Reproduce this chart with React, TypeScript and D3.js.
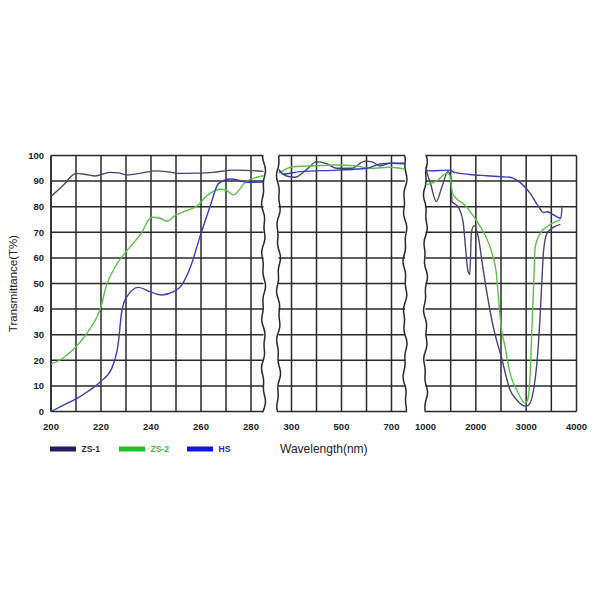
import React from "react";
import * as d3 from "d3";

// ---------- data ----------
const yTicks = [0, 10, 20, 30, 40, 50, 60, 70, 80, 90, 100];
const leftTicks = [200, 220, 240, 260, 280];
const midTicks = [300, 500, 700];
const rightTicks = [1000, 2000, 3000, 4000];

const leftZS1: [number, number][] = [
  [200, 84], [205, 88.5], [210, 93], [214, 92.6], [217.6, 92], [223.6, 93.4], [227, 93.2], [230.3, 92.4],
  [236, 93.1], [242.3, 94], [247, 93.6], [251.6, 93], [258, 93.1], [264.8, 93.4], [272.9, 94.3], [278, 94.2], [285, 93.8],
];
const leftZS2: [number, number][] = [
  [200, 18.5], [205, 21], [210, 25.3], [215, 31.5], [220, 41], [222, 48.7], [226, 57], [230, 62.4], [234, 67],
  [236.4, 70], [239, 74.8], [240.4, 75.9], [243.6, 75.5], [246.3, 74.3], [250, 76.8], [254, 78.4], [258, 80],
  [263, 84.8], [268, 86.8], [270, 86.5], [273, 84.6], [278, 89.8], [285, 92.1],
];
const leftHS: [number, number][] = [
  [200, 0], [205, 2.5], [210, 4.9], [215, 8], [220, 11.8], [224.3, 16.9], [226.9, 26.6], [228.3, 39], [230.3, 44.8],
  [235, 48.5], [239.6, 46.8], [244.3, 45.5], [249, 46.8], [252.3, 49.4], [256, 57], [259.6, 68.3], [263.6, 80],
  [267, 89], [271.6, 90.8], [275.6, 90.2], [278.3, 89.5], [285, 89.6],
];

const midZS1: [number, number][] = [
  [250, 94], [280, 92], [314, 91.5], [360, 94.5], [401, 97.6], [440, 96.8], [481, 95], [540, 95], [594, 97.8],
  [625, 97.4], [654, 95.9], [694, 97], [754, 97],
];
const midZS2: [number, number][] = [
  [250, 93], [275, 94.6], [307, 95.6], [400, 96], [481, 96.3], [561, 95.9], [614, 95], [694, 95.4], [754, 94.7],
];
const midHS: [number, number][] = [
  [250, 94.6], [267, 92.8], [334, 93.7], [481, 94.3], [601, 95], [654, 96.7], [700, 97], [754, 96.8],
];

const rightZS1: [number, number][] = [
  [1000, 95], [1100, 89], [1213, 82], [1330, 88], [1447, 93.7], [1500, 91.7], [1527, 82], [1647, 80], [1747, 74],
  [1847, 54.6], [1880, 53.5], [1913, 70.2], [1967, 72.6], [2047, 68.3], [2147, 55.3], [2200, 48.7], [2347, 33],
  [2513, 20.8], [2680, 8.4], [2813, 4.5], [2980, 2.1], [3047, 2.5], [3147, 8.4], [3213, 18.8], [3280, 38.4],
  [3313, 51.4], [3347, 63], [3413, 69.6], [3547, 72], [3680, 73.1],
];
const rightZS2: [number, number][] = [
  [1000, 88.5], [1247, 90.4], [1413, 93], [1480, 92.4], [1530, 85.9], [1580, 83.9], [1780, 80.7], [1980, 75.5],
  [2180, 69], [2313, 62.4], [2413, 53], [2447, 44.8], [2513, 31.8], [2580, 25.3], [2680, 14.9], [2813, 8.4],
  [2980, 3.2], [3027, 4.5], [3080, 14.9], [3113, 31.8], [3147, 48.7], [3180, 64.4], [3280, 69.6], [3413, 72.2],
  [3613, 74.4], [3680, 74.8],
];
const rightHS: [number, number][] = [
  [1000, 95.6], [1047, 94], [1480, 94.3], [1580, 93.4], [1880, 92.6], [2213, 92.1], [2513, 91.7], [2680, 91.5],
  [2813, 90.4], [3080, 85.2], [3247, 80], [3347, 77.7], [3413, 78], [3547, 76.8], [3647, 75.7], [3690, 75.5], [3713, 80.4],
];

const seriesNames = ["ZS-1", "ZS-2", "HS"];
const lineColors = ["#4a4470", "#5cc04c", "#3a3db5"];
const swatchColors = ["#2a1a60", "#20c028", "#1414e0"];
const textColors = ["#2a2a3a", "#3cbc3c", "#2020e0"];

// ---------- layout ----------
const top = 155.5;
const bottom = 411.5;
const y = d3.scaleLinear().domain([0, 100]).range([bottom, top]);

const panels = [
  { id: "L", x: d3.scaleLinear().domain([200, 285]).range([51, 263.5]), grid: d3.range(200, 285, 10), ticks: leftTicks, data: [leftZS1, leftZS2, leftHS], wavyLeft: false, wavyRight: true },
  { id: "M", x: d3.scaleLinear().domain([248, 754]).range([278.5, 405]), grid: d3.range(300, 701, 100), ticks: midTicks, data: [midZS1, midZS2, midHS], wavyLeft: true, wavyRight: true },
  { id: "R", x: d3.scaleLinear().domain([1000, 4000]).range([425.5, 576.5]), grid: d3.range(1500, 4000, 500), ticks: rightTicks, data: [rightZS1, rightZS2, rightHS], wavyLeft: true, wavyRight: false },
];

const font = "'Liberation Sans', Arial, sans-serif";
const gridColor = "#2a2a2a";

function wavyPath(x0: number, phase: number): string {
  const pts: [number, number][] = [];
  for (let yy = top; yy <= bottom; yy += 4) {
    const dx = 1.3 * Math.sin((yy + phase) / 9) + 0.8 * Math.sin((yy + phase * 2) / 3.7);
    pts.push([x0 + dx, yy]);
  }
  pts.push([x0, bottom]);
  return d3.line()(pts) || "";
}

export default function App() {
  return (
    <svg width={600} height={600} style={{ position: "absolute", left: 0, top: 0, background: "#fff" }}>
      <defs>
        {panels.map((p) => (
          <clipPath id={`clip${p.id}`} key={p.id}>
            <rect x={p.x.range()[0] - 1} y={top - 10} width={p.x.range()[1] - p.x.range()[0] + 2} height={bottom - top + 10} />
          </clipPath>
        ))}
      </defs>
      {panels.map((p, pi) => {
        const [x0, x1] = p.x.range();
        const line = d3.line<[number, number]>().x((d) => p.x(d[0])).y((d) => y(d[1])).curve(d3.curveMonotoneX);
        return (
          <g key={p.id}>
            {yTicks.map((t) => (
              <line key={"h" + t} x1={x0} x2={x1} y1={y(t)} y2={y(t)} stroke={gridColor} strokeWidth={1.5} />
            ))}
            {p.grid.map((g) => (
              <line key={"v" + g} x1={p.x(g)} x2={p.x(g)} y1={top} y2={bottom} stroke={gridColor} strokeWidth={1.5} />
            ))}
            {p.wavyLeft ? (
              <path d={wavyPath(x0, pi * 37)} fill="none" stroke={gridColor} strokeWidth={1.5} />
            ) : (
              <line x1={x0} x2={x0} y1={top} y2={bottom} stroke={gridColor} strokeWidth={1.5} />
            )}
            {p.wavyRight ? (
              <path d={wavyPath(x1, pi * 53 + 11)} fill="none" stroke={gridColor} strokeWidth={1.5} />
            ) : (
              <line x1={x1} x2={x1} y1={top} y2={bottom} stroke={gridColor} strokeWidth={1.5} />
            )}
            <g clipPath={`url(#clip${p.id})`}>
              {p.data.map((s, si) => (
                <path key={si} d={line(s) || ""} fill="none" stroke={lineColors[si]} strokeWidth={1.4} />
              ))}
            </g>
            {p.ticks.map((t) => (
              <text key={"t" + t} x={p.x(t)} y={430} textAnchor="middle" fontFamily={font} fontSize={9.5} fontWeight="bold" fill="#222">
                {t}
              </text>
            ))}
          </g>
        );
      })}
      {yTicks.map((t) => (
        <text key={"y" + t} x={44} y={y(t) + 3.3} textAnchor="end" fontFamily={font} fontSize={9.5} fontWeight="bold" fill="#222">
          {t}
        </text>
      ))}
      <text transform={`translate(17,${(top + bottom) / 2}) rotate(-90)`} textAnchor="middle" fontFamily={font} fontSize={11.5} fill="#222">
        Transmittance(T%)
      </text>
      <text x={280} y={453} fontFamily={font} fontSize={12} fill="#222">
        Wavelength(nm)
      </text>
      {seriesNames.map((n, i) => {
        const lx = [50, 119, 187][i];
        return (
          <g key={n}>
            <rect x={lx} y={446.5} width={26} height={5} fill={swatchColors[i]} />
            <text x={lx + 31.5} y={452} fontFamily={font} fontSize={8.5} fontWeight="bold" fill={textColors[i]}>
              {n}
            </text>
          </g>
        );
      })}
    </svg>
  );
}
